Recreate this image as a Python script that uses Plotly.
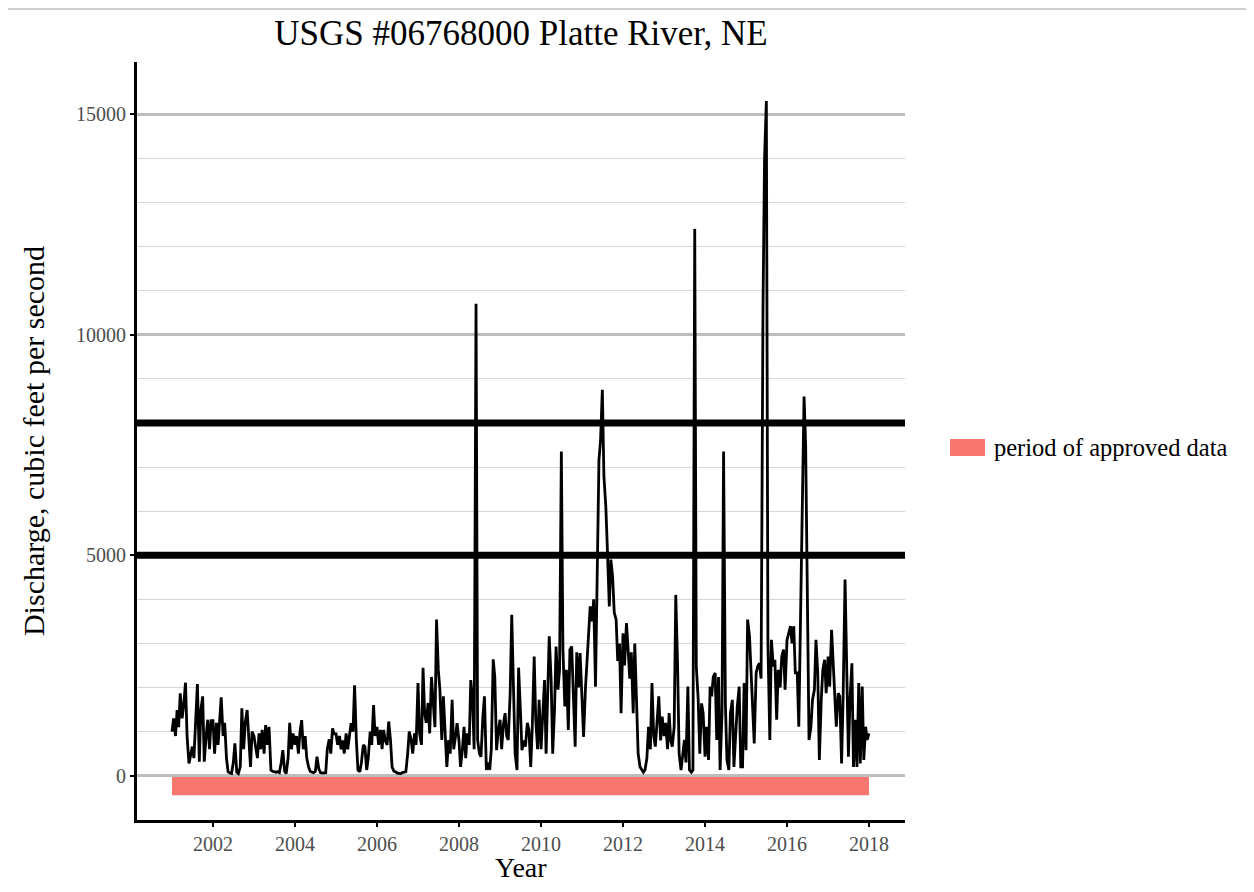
import pandas as pd
import plotly.graph_objects as go

# ---- data (semi-monthly readings, cubic feet per second) ----
q2001 = [1000, 1300, 900, 1490, 1100, 1870, 1300, 1600, 2110, 900, 280, 500, 660, 400, 1300, 2080, 320, 1500, 1800, 320, 900, 1270, 600, 1250]
q2002 = [1250, 500, 1200, 700, 1250, 1780, 900, 1200, 400, 90, 60, 50, 300, 735, 80, 50, 200, 1530, 600, 1200, 1490, 800, 200, 1000]
q2003 = [900, 660, 400, 960, 600, 1040, 500, 1150, 700, 1110, 130, 100, 90, 80, 90, 70, 300, 580, 100, 50, 400, 1200, 600, 960]
q2004 = [700, 900, 500, 1000, 1260, 600, 900, 400, 200, 100, 80, 70, 100, 430, 150, 70, 60, 70, 70, 600, 825, 500, 1075, 950]
q2005 = [950, 700, 900, 600, 800, 500, 960, 600, 900, 1190, 1000, 2050, 810, 130, 90, 300, 700, 660, 130, 400, 1000, 700, 1600, 900]
q2006 = [1110, 700, 1040, 600, 1040, 800, 700, 1230, 810, 200, 100, 90, 60, 50, 50, 70, 80, 90, 500, 1000, 810, 500, 960, 700]
q2007 = [2100, 960, 700, 2450, 1420, 1200, 1650, 960, 2240, 1720, 1100, 3540, 2400, 1950, 810, 1800, 1000, 200, 810, 500, 1720, 600, 880, 1190]
q2008 = [800, 200, 600, 1110, 400, 960, 700, 2170, 1720, 600, 10700, 810, 500, 430, 1340, 1800, 130, 300, 130, 600, 2640, 2240, 580, 1000]
q2009 = [1270, 600, 1190, 1420, 900, 810, 1870, 3650, 1950, 500, 130, 2450, 1500, 580, 800, 660, 1200, 1040, 200, 1100, 2700, 1270, 600, 1720]
q2010 = [600, 1500, 2170, 500, 1800, 3160, 2170, 500, 1500, 2930, 1950, 2400, 7350, 2860, 1570, 2400, 1040, 2860, 2930, 1800, 660, 2800, 2000, 2780]
q2011 = [1500, 880, 2000, 2700, 3200, 3840, 3500, 4000, 2020, 4070, 7170, 7600, 8750, 6800, 6100, 5130, 3840, 4900, 4500, 3700, 3540, 2600, 3000, 1420]
q2012 = [3230, 2500, 3460, 2900, 2200, 2800, 1420, 3000, 1500, 500, 200, 130, 80, 130, 400, 1110, 600, 2100, 900, 660, 1200, 1800, 800, 1340]
q2013 = [900, 1200, 600, 1420, 800, 660, 1110, 4100, 2550, 500, 130, 400, 810, 300, 2020, 130, 80, 130, 12400, 2480, 1720, 500, 1640, 1420]
q2014 = [430, 1110, 360, 2020, 1800, 2240, 2330, 810, 2240, 130, 1420, 7350, 1640, 360, 130, 1420, 1720, 200, 1000, 1570, 2020, 200, 200, 2100]
q2015 = [580, 3540, 3160, 2330, 1720, 730, 2330, 2480, 2550, 2200, 10600, 14000, 15300, 3000, 810, 3080, 2480, 2630, 1270, 2400, 2000, 2700, 2860, 1950]
q2016 = [3080, 3230, 3390, 3000, 3390, 2330, 2330, 1110, 3840, 6000, 8600, 7500, 3460, 810, 1110, 1720, 1950, 3080, 2330, 360, 1720, 2400, 2630, 1870]
q2017 = [2700, 2020, 3310, 2630, 1640, 1110, 1870, 1800, 280, 1800, 4450, 2170, 430, 1720, 2550, 200, 1270, 200, 2100, 280, 2020, 360, 1110, 810]
last_date = "2017-12-31"
last_value = 960

thresholds = [5000, 8000]
approved_period = ["2001-01-01", "2017-12-31"]
approved_band = [-440, -30]
legend_label = "period of approved data"

x_ticks = ["2002", "2004", "2006", "2008", "2010", "2012", "2014", "2016", "2018"]
y_major = [0, 5000, 10000, 15000]
y_minor = [1000, 2000, 3000, 4000, 6000, 7000, 8000, 9000, 11000, 12000, 13000, 14000]

discharge = (q2001 + q2002 + q2003 + q2004 + q2005 + q2006 + q2007 + q2008 + q2009
             + q2010 + q2011 + q2012 + q2013 + q2014 + q2015 + q2016 + q2017 + [last_value])
dates = list(pd.date_range("2001-01-01", "2017-12-15", freq="SMS")) + [pd.Timestamp(last_date)]

FONT = "Liberation Serif"
RED = "#F8766D"

fig = go.Figure()

# approved-data band
fig.add_trace(go.Scatter(
    x=[approved_period[0], approved_period[1], approved_period[1], approved_period[0], approved_period[0]],
    y=[approved_band[0], approved_band[0], approved_band[1], approved_band[1], approved_band[0]],
    fill="toself", fillcolor=RED, mode="lines", line=dict(width=0, color=RED),
    name=legend_label, showlegend=False, hoverinfo="skip"))

# discharge line
fig.add_trace(go.Scatter(
    x=dates, y=discharge, mode="lines",
    line=dict(color="black", width=2.8), showlegend=False, name="discharge"))

for t in thresholds:
    fig.add_hline(y=t, line=dict(color="black", width=7), layer="above")

# page offset (body margin) -> figure coordinates = screenshot coordinates - OFF
OFF = 8
W, H = 1254 - 2 * OFF, 892 - 2 * OFF
L, R, T, B = 137 - OFF, 905 - OFF, 62 - OFF, 820 - OFF


def px(x):
    return (x - OFF - L) / (R - L)


def py(y):
    return (B - (y - OFF)) / (B - T)


# manual legend (swatch + text)
fig.add_shape(type="rect", xref="paper", yref="paper",
              x0=px(950), x1=px(985), y0=py(456), y1=py(439),
              fillcolor=RED, line=dict(width=0))
fig.add_annotation(xref="paper", yref="paper", x=px(992), y=py(447),
                   text=legend_label, showarrow=False, xanchor="left", yanchor="middle",
                   font=dict(family=FONT, size=24.5, color="black"))

# top page rule
fig.add_shape(type="line", xref="paper", yref="paper",
              x0=px(OFF), x1=px(1254), y0=py(OFF + 1), y1=py(OFF + 1),
              line=dict(color="#cfcfcf", width=2))

# x-axis title placed explicitly below the tick labels, kept inside the figure
fig.add_annotation(xref="paper", yref="paper", x=0.5, y=py(H + OFF),
                   text="Year", showarrow=False, xanchor="center", yanchor="bottom",
                   borderpad=0, font=dict(family=FONT, size=28, color="black"))

fig.update_layout(
    width=W, height=H,
    margin=dict(l=L, r=W - R, t=T, b=H - B),
    plot_bgcolor="white", paper_bgcolor="white",
    font=dict(family=FONT, color="black"),
    title=dict(text="USGS #06768000 Platte River, NE", x=0.5, xref="paper",
               y=1 - (33 - OFF) / H, yanchor="middle", yref="container",
               font=dict(family=FONT, size=35, color="black")),
    showlegend=False,
)

fig.update_xaxes(
    automargin=False,
    range=["2000-02-24", "2018-11-17"],
    tickmode="array", tickvals=[f"{v}-01-01" for v in x_ticks], ticktext=x_ticks,
    showgrid=False, zeroline=False,
    showline=True, linecolor="black", linewidth=3,
    ticks="outside", ticklen=4, tickwidth=2, tickcolor="black",
    tickfont=dict(family=FONT, size=20, color="#4d4d4d"),
)

fig.update_yaxes(
    automargin=False,
    range=[-1004, 16184],
    tickmode="array", tickvals=y_major, ticktext=[str(v) for v in y_major],
    showgrid=True, gridcolor="#bdbdbd", gridwidth=2.5,
    minor=dict(tickmode="array", tickvals=y_minor, showgrid=True,
               gridcolor="#d6d6d6", gridwidth=1, ticks=""),
    zeroline=False,
    showline=True, linecolor="black", linewidth=3,
    ticks="outside", ticklen=4, tickwidth=2, tickcolor="black",
    tickfont=dict(family=FONT, size=20, color="#4d4d4d"),
    title=dict(text="Discharge, cubic feet per second",
               font=dict(family=FONT, size=30, color="black"), standoff=23),
)

fig.write_html("out.html")
